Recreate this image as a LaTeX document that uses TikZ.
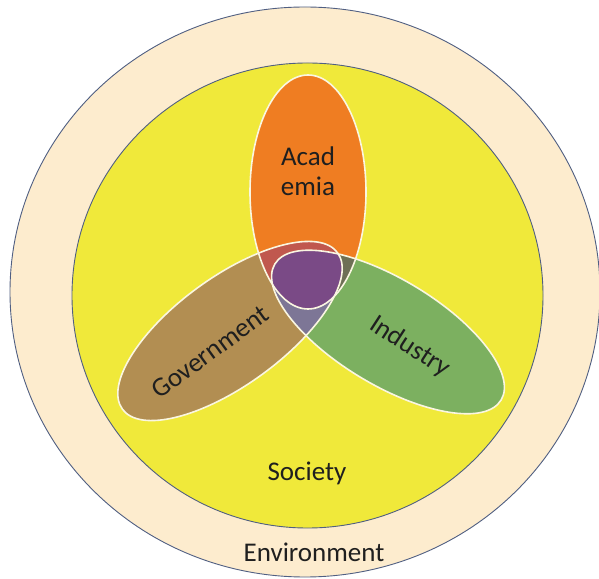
\documentclass[tikz,border=0pt]{standalone}
\usepackage{fontspec}
\setmainfont{Carlito}
\definecolor{cream}{RGB}{253,236,206}
\definecolor{society}{RGB}{240,233,58}
\definecolor{ringline}{RGB}{80,95,130}
\definecolor{lobeline}{RGB}{250,246,225}
\definecolor{acadc}{RGB}{239,125,34}
\definecolor{govc}{RGB}{178,142,82}
\definecolor{indc}{RGB}{124,176,96}
\definecolor{agc}{RGB}{192,88,78}
\definecolor{aic}{RGB}{110,112,85}
\definecolor{gic}{RGB}{125,118,150}
\definecolor{agic}{RGB}{122,74,134}
\begin{document}
\begin{tikzpicture}[x=1pt,y=1pt,
  lbl/.style={font=\fontsize{27}{30}\selectfont, text=black!88, inner sep=0pt},
  ring/.style={draw=ringline, line width=0.9pt},
  lobe/.style={draw=lobeline, line width=1.6pt},
  govrot/.style={rotate around={36:(230,247)}},
  indrot/.style={rotate around={-31:(388,246)}}]
\useasboundingbox (0,0) rectangle (599,578);
\fill[white] (0,0) rectangle (599,578);
\begin{scope}
  \clip (0,0) rectangle (599,578);
  \path[ring, fill=cream] (305,286) ellipse [x radius=295, y radius=285];
\end{scope}
\path[ring, fill=society] (307.5,282.5) ellipse [x radius=235.5, y radius=232.5];
% lobes
\fill[acadc] (308,386) ellipse [x radius=58, y radius=117];
\fill[govc, govrot] (230,247) ellipse [x radius=133, y radius=54];
\fill[indc, indrot] (388,246) ellipse [x radius=132, y radius=53];
% pairwise overlaps
\begin{scope}
  \clip (308,386) ellipse [x radius=58, y radius=117];
  \clip[govrot] (230,247) ellipse [x radius=133, y radius=54];
  \fill[agc] (0,0) rectangle (599,578);
\end{scope}
\begin{scope}
  \clip (308,386) ellipse [x radius=58, y radius=117];
  \clip[indrot] (388,246) ellipse [x radius=132, y radius=53];
  \fill[aic] (0,0) rectangle (599,578);
\end{scope}
\begin{scope}
  \clip[govrot] (230,247) ellipse [x radius=133, y radius=54];
  \clip[indrot] (388,246) ellipse [x radius=132, y radius=53];
  \fill[gic] (0,0) rectangle (599,578);
\end{scope}
\begin{scope}
  \clip (308,386) ellipse [x radius=58, y radius=117];
  \clip[govrot] (230,247) ellipse [x radius=133, y radius=54];
  \clip[indrot] (388,246) ellipse [x radius=132, y radius=53];
  \fill[agic] (0,0) rectangle (599,578);
\end{scope}
% outlines
\draw[lobe] (308,386) ellipse [x radius=58, y radius=117];
\draw[lobe, govrot] (230,247) ellipse [x radius=133, y radius=54];
\draw[lobe, indrot] (388,246) ellipse [x radius=132, y radius=53];
% labels
\node[lbl, align=center] (acad) at (308,407) {Acad\\emia};
\node[lbl, rotate=36] (gov) at (210,226) {Government};
\node[lbl, rotate=-33] (ind) at (410,231) {Industry};
\node[lbl] (soc) at (307,105) {Society};
\node[lbl] (env) at (314,26) {Environment};
\end{tikzpicture}
\end{document}
